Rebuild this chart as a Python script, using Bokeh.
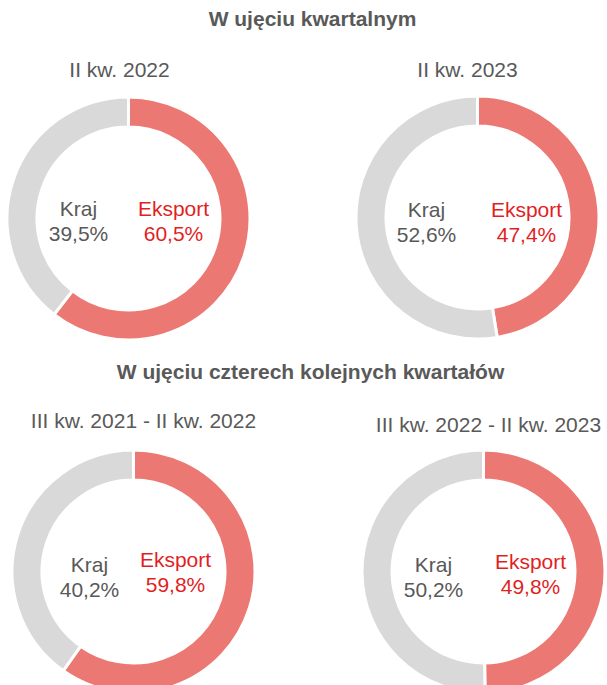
import math
from bokeh.plotting import figure
from bokeh.models import Range1d, ColumnDataSource
from bokeh.core.properties import value
from bokeh.embed import file_html
from bokeh.resources import INLINE

# ---- data ----
titles = ["W ujęciu kwartalnym", "W ujęciu czterech kolejnych kwartałów"]
periods = ["II kw. 2022", "II kw. 2023", "III kw. 2021 - II kw. 2022", "III kw. 2022 - II kw. 2023"]
categories = ["Kraj", "Eksport"]
kraj = [39.5, 52.6, 40.2, 50.2]
eksport = [60.5, 47.4, 59.8, 49.8]

# ---- layout (image pixel coordinates) ----
W, H = 607, 685
centers = [(128, 218), (477, 217), (133, 571), (483, 571)]
title_pos = [(312, 18), (310, 371)]
period_pos = [(119, 69), (467, 69), (143, 420), (488, 424)]
kraj_pos = [(78, 208), (426, 209), (89, 564), (433, 564)]
eks_pos = [(173, 208), (526, 209), (175, 559), (530, 561)]
LINE = 25
R_OUT, R_IN = 121.5, 91.5

GRAY_TXT = "#595959"
RED_TXT = "#E21F1F"
RED_FILL = "#EC7873"
GRAY_FILL = "#D9D9D9"
FONT = value("Liberation Sans")

p = figure(width=W, height=H, output_backend="svg", toolbar_location=None,
           x_range=Range1d(0, W), y_range=Range1d(-H, 0),
           min_border=0)
p.axis.visible = False
p.grid.visible = False
p.outline_line_color = None
p.background_fill_color = "white"
p.border_fill_color = "white"

def fy(y):
    return -y

def pct(v):
    return f"{v:.1f}".replace(".", ",") + "%"

# donuts
xs, ys, starts, ends, colors = [], [], [], [], []
for i, (cx, cy) in enumerate(centers):
    a = math.pi / 2 - 2 * math.pi * eksport[i] / (eksport[i] + kraj[i])
    xs += [cx, cx]
    ys += [fy(cy), fy(cy)]
    starts += [math.pi / 2, a]
    ends += [a, math.pi / 2 - 2 * math.pi]
    colors += [RED_FILL, GRAY_FILL]
src = ColumnDataSource(dict(x=xs, y=ys, s=starts, e=ends, c=colors))
p.annular_wedge(x="x", y="y", inner_radius=R_IN, outer_radius=R_OUT,
                inner_radius_units="screen", outer_radius_units="screen",
                start_angle="s", end_angle="e", direction="clock",
                fill_color="c", line_color="white", line_width=3, source=src)

# titles
p.text(x=[t[0] for t in title_pos], y=[fy(t[1]) for t in title_pos], text=titles,
       text_align="center", text_baseline="alphabetic", text_font=FONT,
       text_font_size="21px", text_font_style="bold", text_color=GRAY_TXT)

# period labels
p.text(x=[t[0] for t in period_pos], y=[fy(t[1]) for t in period_pos], text=periods,
       text_align="center", text_baseline="alphabetic", text_font=FONT,
       text_font_size="21px", text_color=GRAY_TXT)

# Kraj labels
p.text(x=[t[0] for t in kraj_pos], y=[fy(t[1]) for t in kraj_pos],
       text=[categories[0]] * 4, text_align="center", text_baseline="alphabetic",
       text_font=FONT, text_font_size="21px", text_color=GRAY_TXT)
p.text(x=[t[0] for t in kraj_pos], y=[fy(t[1] + LINE) for t in kraj_pos],
       text=[pct(v) for v in kraj], text_align="center", text_baseline="alphabetic",
       text_font=FONT, text_font_size="21px", text_color=GRAY_TXT)

# Eksport labels
p.text(x=[t[0] for t in eks_pos], y=[fy(t[1]) for t in eks_pos],
       text=[categories[1]] * 4, text_align="center", text_baseline="alphabetic",
       text_font=FONT, text_font_size="21px", text_color=RED_TXT)
p.text(x=[t[0] for t in eks_pos], y=[fy(t[1] + LINE) for t in eks_pos],
       text=[pct(v) for v in eksport], text_align="center", text_baseline="alphabetic",
       text_font=FONT, text_font_size="21px", text_color=RED_TXT)

open("out.html", "w").write(file_html(p, INLINE))
